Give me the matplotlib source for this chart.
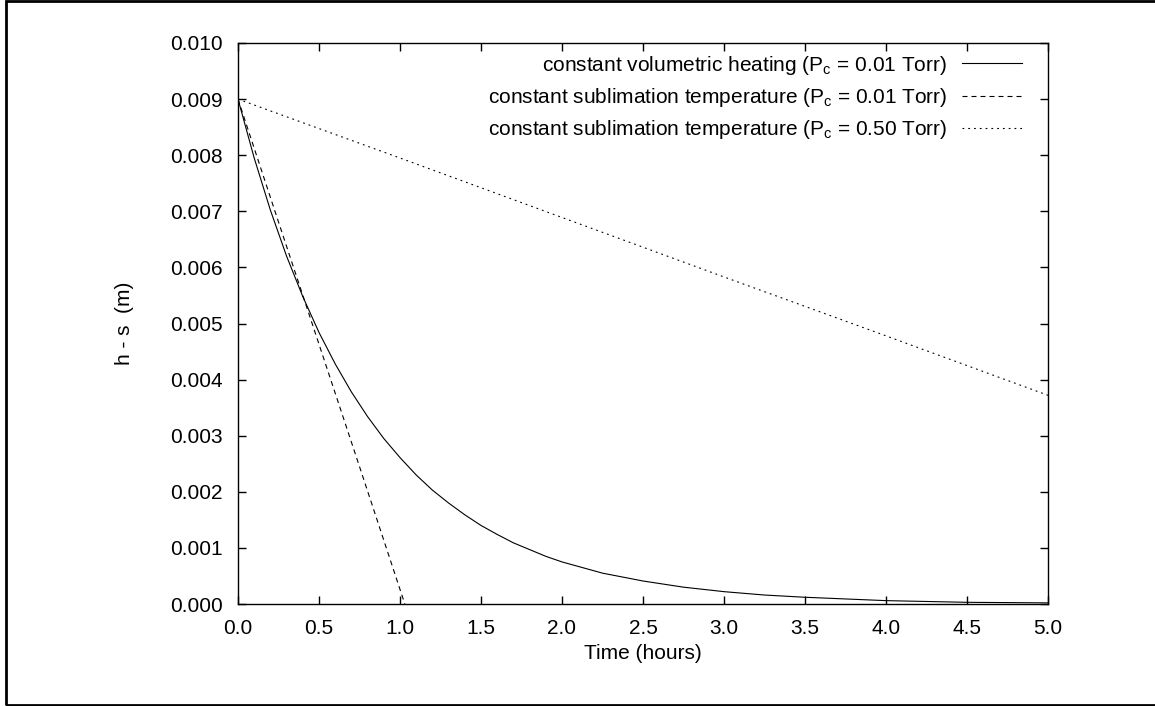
import matplotlib
matplotlib.use("Agg")
import matplotlib.pyplot as plt
from matplotlib.patches import Rectangle

plt.rcParams['font.family'] = ['Liberation Sans', 'DejaVu Sans']
plt.rcParams['mathtext.default'] = 'regular'

# constant volumetric heating (Pc = 0.01 Torr)
t_vol = [0.0, 0.1, 0.2, 0.3, 0.4, 0.5, 0.6, 0.7, 0.8, 0.9, 1.0, 1.1, 1.2, 1.3, 1.4,
         1.5, 1.6, 1.7, 1.8, 1.9, 2.0, 2.25, 2.5, 2.75, 3.0, 3.25, 3.5, 3.75, 4.0,
         4.5, 5.0]
hs_vol = [0.00900, 0.00795, 0.00702, 0.00620, 0.00548, 0.00484, 0.00428, 0.00378,
          0.00334, 0.00295, 0.00261, 0.00230, 0.00203, 0.00180, 0.00159, 0.00140,
          0.00124, 0.00109, 0.00097, 0.00085, 0.00075, 0.00055, 0.00041, 0.00030,
          0.00022, 0.00016, 0.00012, 0.00009, 0.00006, 0.00003, 0.00002]

# constant sublimation temperature (Pc = 0.01 Torr)
t_sub1 = [0.0, 0.25, 0.5, 0.75, 1.0, 1.03]
hs_sub1 = [0.00900, 0.00681, 0.00463, 0.00245, 0.00026, 0.0]

# constant sublimation temperature (Pc = 0.50 Torr)
t_sub2 = [0.0, 1.0, 2.0, 3.0, 4.0, 5.0]
hs_sub2 = [0.00900, 0.00795, 0.00689, 0.00583, 0.00478, 0.00372]

etiquetas = ['constant volumetric heating (P$_c$ = 0.01 Torr)',
             'constant sublimation temperature (P$_c$ = 0.01 Torr)',
             'constant sublimation temperature (P$_c$ = 0.50 Torr)']

fs = 15

fig = plt.figure(figsize=(11.55, 7.06), dpi=100)
ax = fig.add_axes([238/1155, 1 - 604/706, 810/1155, 561/706])

ax.plot(t_vol, hs_vol, color='black', lw=0.8, label=etiquetas[0])
ax.plot(t_sub1, hs_sub1, color='black', lw=0.8, dashes=(4.5, 3.6), label=etiquetas[1])
ax.plot(t_sub2, hs_sub2, color='black', lw=0.8, dashes=(1.6, 3.6), label=etiquetas[2])

ax.set_xlim(0, 5)
ax.set_ylim(0, 0.010)
ax.set_xticks([i * 0.5 for i in range(11)])
ax.set_yticks([i * 0.001 for i in range(11)])
ax.set_xticklabels([f'{i * 0.5:.1f}' for i in range(11)])
ax.set_yticklabels([f'{i * 0.001:.3f}' for i in range(11)])
ax.tick_params(direction='in', length=6, width=1, top=True, right=True,
               labelsize=fs, pad=11)
for s in ax.spines.values():
    s.set_linewidth(1.0)

ax.set_xlabel('Time (hours)', fontsize=fs, labelpad=4)
ax.set_ylabel('h - s  (m)', fontsize=fs, labelpad=26)

leg = ax.legend(loc='upper right', bbox_to_anchor=(0.968, 0.981), frameon=False,
                fontsize=fs, markerfirst=False, handlelength=2.9,
                handletextpad=0.7, labelspacing=0.45, borderpad=0,
                borderaxespad=0)
# textos alineados a la derecha como en gnuplot
leg._legend_box._children[-1]._children[0].align = 'right'

# marco exterior
fig.patches.append(Rectangle((5.5/1155, 1.5/706), 1.2, 1 - 2.5/706,
                             transform=fig.transFigure, fill=False,
                             edgecolor='black', lw=2.0, clip_on=False))

fig.savefig('out.png', dpi=100)
